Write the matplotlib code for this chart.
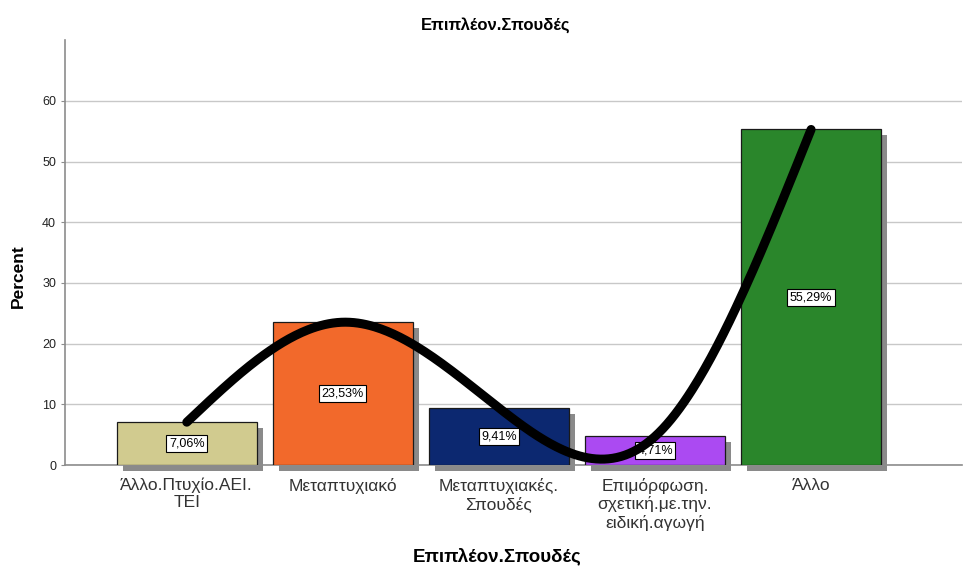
import numpy as np
import matplotlib.pyplot as plt
from matplotlib.transforms import ScaledTranslation

plt.rcParams['font.family'] = ['Liberation Sans', 'DejaVu Sans']

# percentages per category
categories = ["Άλλο.Πτυχίο.ΑΕΙ.\nΤΕΙ", "Μεταπτυχιακό", "Μεταπτυχιακές.\nΣπουδές",
              "Επιμόρφωση.\nσχετική.με.την.\nειδική.αγωγή", "Άλλο"]
percent = [7.06, 23.53, 9.41, 4.71, 55.29]
colors = ["#d1cb8f", "#f2692b", "#0c2870", "#ab4af2", "#2a862b"]


def natural_spline(x, y, xs):
    # natural cubic spline through the bar tops
    x = np.asarray(x, float)
    y = np.asarray(y, float)
    n = len(x)
    h = np.diff(x)
    A = np.zeros((n, n))
    b = np.zeros(n)
    A[0, 0] = A[-1, -1] = 1
    for i in range(1, n - 1):
        A[i, i - 1] = h[i - 1]
        A[i, i] = 2 * (h[i - 1] + h[i])
        A[i, i + 1] = h[i]
        b[i] = 6 * ((y[i + 1] - y[i]) / h[i] - (y[i] - y[i - 1]) / h[i - 1])
    M = np.linalg.solve(A, b)
    out = np.empty_like(xs)
    for k, t in enumerate(xs):
        i = min(max(np.searchsorted(x, t) - 1, 0), n - 2)
        a, c = x[i + 1] - t, t - x[i]
        out[k] = (M[i] * a ** 3 + M[i + 1] * c ** 3) / (6 * h[i]) \
            + (y[i] / h[i] - M[i] * h[i] / 6) * a + (y[i + 1] / h[i] - M[i + 1] * h[i] / 6) * c
    return out


fig = plt.figure(figsize=(9.65, 5.66), dpi=100)
ax = fig.add_axes([0.0674, 0.1784, 0.93, 0.7506])

x = np.arange(len(categories))
# grey drop shadows, shifted right/down
shift = ax.transData + ScaledTranslation(6 / 100, -6 / 100, fig.dpi_scale_trans)
shadows = ax.bar(x, percent, width=0.9, color="#8a8a8a", zorder=2)
for p in shadows:
    p.set_transform(shift)
    p.set_clip_on(False)
ax.bar(x, percent, width=0.9, color=colors, edgecolor="#1a1a1a", linewidth=0.9, zorder=3)

for xi, v in zip(x, percent):
    ax.text(xi, v / 2, f"{v:.2f}%".replace(".", ","), ha="center", va="center", fontsize=9, zorder=4,
            bbox=dict(boxstyle="square,pad=0.2", facecolor="white", edgecolor="black", linewidth=0.8))

xs = np.linspace(0, len(percent) - 1, 300)
ax.plot(xs, natural_spline(x, percent, xs), color="black", linewidth=6.5, solid_capstyle="round", zorder=5)

ax.set_xlim(-0.78, 4.97)
ax.set_ylim(0, 70)
ax.set_yticks([0, 10, 20, 30, 40, 50, 60])
ax.set_xticks(x)
ax.set_xticklabels(categories, fontsize=12.5, color="#333333", linespacing=1.2)
ax.tick_params(axis="x", length=0, pad=9)
ax.tick_params(axis="y", length=3, labelsize=9, color="#8c8c8c", labelcolor="#222222")
ax.yaxis.grid(True, color="#c8c8c8", linewidth=1)
ax.set_axisbelow(True)
for s in ["top", "right"]:
    ax.spines[s].set_visible(False)
for s in ["left", "bottom"]:
    ax.spines[s].set_color("#8c8c8c")
    ax.spines[s].set_linewidth(1.2)

fig.text(496 / 965, 1 - 25 / 566, "Επιπλέον.Σπουδές", fontsize=12, fontweight="bold", ha="center", va="center")
fig.text(497 / 965, 1 - 556 / 566, "Επιπλέον.Σπουδές", fontsize=13.5, fontweight="bold", ha="center", va="center")
fig.text(18 / 965, 1 - 276 / 566, "Percent", fontsize=12.5, fontweight="bold", rotation=90, ha="center", va="center")

fig.savefig("out.png", dpi=100)
